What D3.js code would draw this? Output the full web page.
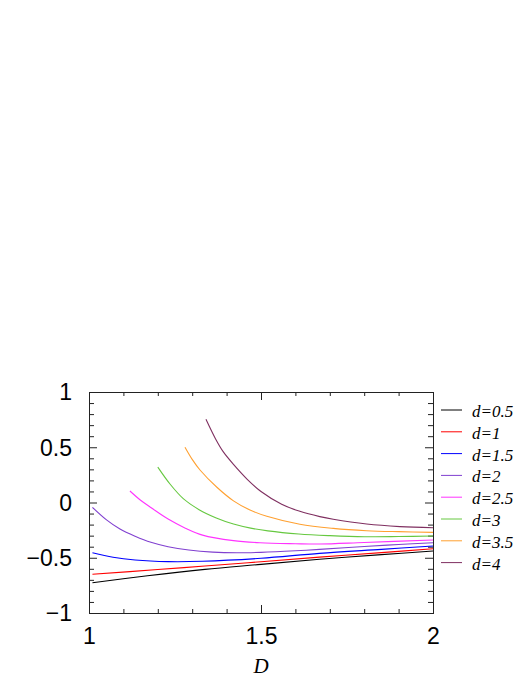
<!DOCTYPE html>
<html>
<head>
<meta charset="utf-8">
<script src="https://cdn.jsdelivr.net/npm/d3@7"></script>
<style>
  body { margin: 0; background: #fff; }
  .tick-label { font-family: "Liberation Sans", Arial, sans-serif; font-size: 23px; fill: #000; }
  .legend-label, .axis-title { font-family: "Liberation Serif", "Times New Roman", serif; font-style: italic; fill: #000; }
</style>
</head>
<body>
<div id="chart"></div>
<script>
// legend names of the curves
const seriesNames = ['d=0.5', 'd=1', 'd=1.5', 'd=2', 'd=2.5', 'd=3', 'd=3.5', 'd=4'];
const seriesColors = ['#000000', '#ff0000', '#0000ff', '#8040d0', '#ff33ff', '#66c840', '#ffa030', '#7f2f60'];

// D values and curve values
const d05D = [1.01, 1.17, 1.337, 1.5, 1.67, 1.85, 2.0];
const d05V = [-0.726, -0.663, -0.605, -0.56, -0.513, -0.472, -0.439];

const d1D = [1.01, 1.2, 1.337, 1.5, 1.67, 1.85, 2.0];
const d1V = [-0.65, -0.607, -0.575, -0.536, -0.494, -0.454, -0.418];

const d15D = [1.01, 1.07, 1.134, 1.23, 1.33, 1.5, 1.67, 1.85, 2.0];
const d15V = [-0.454, -0.495, -0.52, -0.535, -0.532, -0.505, -0.46, -0.424, -0.394];

const d2D = [1.01, 1.05, 1.09, 1.134, 1.18, 1.23, 1.29, 1.36, 1.43, 1.5, 1.6, 1.67, 1.8, 1.9, 2.0];
const d2V = [-0.044, -0.155, -0.24, -0.305, -0.36, -0.40, -0.43, -0.449, -0.455, -0.451, -0.437, -0.424, -0.398, -0.38, -0.364];

const d25D = [1.119, 1.15, 1.182, 1.23, 1.28, 1.33, 1.42, 1.497, 1.6, 1.67, 1.8, 2.0];
const d25V = [0.104, 0.02, -0.05, -0.15, -0.232, -0.295, -0.345, -0.364, -0.373, -0.376, -0.362, -0.339];

const d3D = [1.2, 1.236, 1.274, 1.32, 1.37, 1.42, 1.47, 1.52, 1.61, 1.7, 1.8, 1.9, 2.0];
const d3V = [0.32, 0.165, 0.035, -0.065, -0.14, -0.195, -0.232, -0.257, -0.285, -0.30, -0.31, -0.308, -0.303];

const d35D = [1.279, 1.3, 1.3227, 1.371, 1.42, 1.468, 1.517, 1.613, 1.71, 1.807, 1.9, 2.0];
const d35V = [0.50, 0.39, 0.294, 0.14, 0.015, -0.068, -0.125, -0.197, -0.234, -0.255, -0.264, -0.27];

const d4D = [1.34, 1.368, 1.39, 1.42, 1.46, 1.5, 1.56, 1.613, 1.671, 1.71, 1.807, 1.904, 2.0];
const d4V = [0.753, 0.575, 0.46, 0.345, 0.21, 0.1, -0.015, -0.08, -0.128, -0.152, -0.195, -0.218, -0.228];

const seriesD = [d05D, d1D, d15D, d2D, d25D, d3D, d35D, d4D];
const seriesV = [d05V, d1V, d15V, d2V, d25V, d3V, d35V, d4V];

// tick values
const xMajorTicks = [1, 1.5, 2];
const xMinorTicks = [1.1, 1.2, 1.3, 1.4, 1.6, 1.7, 1.8, 1.9];
const yMajorTicks = [-1, -0.5, 0, 0.5, 1];
const yMinorTicks = [-0.9, -0.8, -0.7, -0.6, -0.4, -0.3, -0.2, -0.1, 0.1, 0.2, 0.3, 0.4, 0.6, 0.7, 0.8, 0.9];

class LineChart {
    constructor(_config) {
        this.config = {
            parentElement: _config.parentElement,
            containerWidth: _config.containerWidth || 523,
            containerHeight: _config.containerHeight || 677,
            margin: _config.margin || { top: 392, right: 90, bottom: 64, left: 89 }
        }
        this.data = seriesNames.map((name, i) => ({
            name: name,
            color: seriesColors[i],
            values: seriesD[i].map((x, j) => ({ x: x, y: seriesV[i][j] }))
        }));
        this.initVis();
    }

    initVis() {
        let vis = this;

        vis.width = vis.config.containerWidth - vis.config.margin.left - vis.config.margin.right;
        vis.height = vis.config.containerHeight - vis.config.margin.top - vis.config.margin.bottom;

        vis.xScale = d3.scaleLinear().domain([1, 2]).range([0, vis.width]);
        vis.yScale = d3.scaleLinear().domain([-1, 1]).range([vis.height, 0]);

        vis.svg = d3.select(vis.config.parentElement)
            .append('svg')
            .attr('width', vis.config.containerWidth)
            .attr('height', vis.config.containerHeight);

        vis.chart = vis.svg.append('g')
            .attr('transform', `translate(${vis.config.margin.left},${vis.config.margin.top})`);

        vis.renderVis();
    }

    renderVis() {
        let vis = this;
        const fmt = d3.format('');

        // inward ticks on all four sides
        const addAxis = (axis, transform, labels) => {
            let g = vis.chart.append('g')
                .attr('transform', transform)
                .call(axis);
            g.select('.domain').remove();
            g.selectAll('line').attr('stroke', '#222').attr('stroke-width', 1);
            if (labels) {
                g.selectAll('text').attr('class', 'tick-label');
            } else {
                g.selectAll('text').remove();
            }
            return g;
        };

        let xLabels = addAxis(d3.axisBottom(vis.xScale).tickValues(xMajorTicks).tickSize(-8).tickFormat(fmt),
            `translate(0,${vis.height})`, true);
        xLabels.selectAll('text').attr('y', 31).attr('dy', null);
        addAxis(d3.axisBottom(vis.xScale).tickValues(xMinorTicks).tickSize(-4), `translate(0,${vis.height})`, false);
        addAxis(d3.axisTop(vis.xScale).tickValues(xMajorTicks).tickSize(-8), 'translate(0,0)', false);
        addAxis(d3.axisTop(vis.xScale).tickValues(xMinorTicks).tickSize(-4), 'translate(0,0)', false);

        let yLabels = addAxis(d3.axisLeft(vis.yScale).tickValues(yMajorTicks).tickSize(-8).tickFormat(fmt),
            'translate(0,0)', true);
        yLabels.selectAll('text').attr('x', -17).attr('dy', '0.34em');
        addAxis(d3.axisLeft(vis.yScale).tickValues(yMinorTicks).tickSize(-5), 'translate(0,0)', false);
        addAxis(d3.axisRight(vis.yScale).tickValues(yMajorTicks).tickSize(-8), `translate(${vis.width},0)`, false);
        addAxis(d3.axisRight(vis.yScale).tickValues(yMinorTicks).tickSize(-5), `translate(${vis.width},0)`, false);

        // frame
        vis.chart.append('rect')
            .attr('x', 0.5).attr('y', 0.5)
            .attr('width', vis.width).attr('height', vis.height)
            .attr('fill', 'none').attr('stroke', '#222').attr('stroke-width', 1);

        // curves
        const line = d3.line()
            .x(d => vis.xScale(d.x))
            .y(d => vis.yScale(d.y))
            .curve(d3.curveCatmullRom.alpha(0.5));

        vis.chart.selectAll('.curve')
            .data(vis.data)
            .join('path')
            .attr('class', 'curve')
            .attr('fill', 'none')
            .attr('stroke', d => d.color)
            .attr('stroke-width', 1.1)
            .attr('d', d => line(d.values));

        // x axis title
        vis.chart.append('text')
            .attr('class', 'axis-title')
            .attr('x', vis.width / 2)
            .attr('y', vis.height + 60)
            .attr('font-size', 21)
            .style('text-anchor', 'middle')
            .text('D');

        // legend
        const legend = vis.chart.append('g')
            .attr('transform', `translate(${vis.width + 8},18)`);

        const rows = legend.selectAll('.legend-row')
            .data(vis.data)
            .join('g')
            .attr('class', 'legend-row')
            .attr('transform', (d, i) => `translate(0,${i * 21.8})`);

        rows.append('line')
            .attr('x1', 0).attr('x2', 21)
            .attr('y1', 0).attr('y2', 0)
            .attr('stroke', d => d.color)
            .attr('stroke-width', 1);

        rows.append('text')
            .attr('class', 'legend-label')
            .attr('x', 31)
            .attr('y', 7)
            .attr('font-size', 17)
            .text(d => d.name);
    }
}

let chart = new LineChart({ parentElement: '#chart' });
</script>
</body>
</html>
